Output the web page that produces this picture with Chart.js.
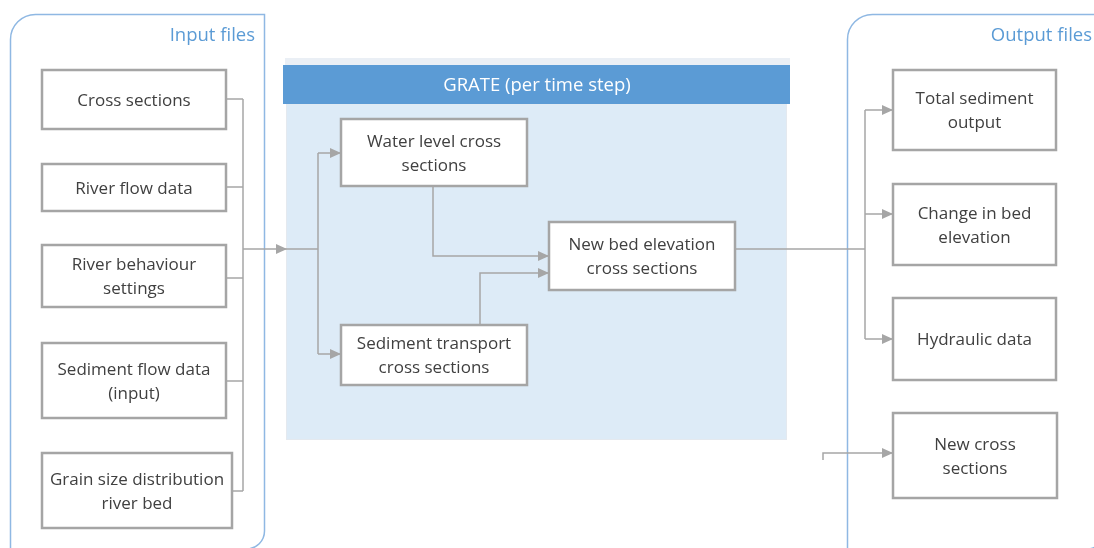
<!DOCTYPE html>
<html>
<head>
<meta charset="utf-8">
<script src="https://cdn.jsdelivr.net/npm/chart.js@4"></script>
<style>
  body { margin: 0; background: #fff; }
  #wrap { width: 1094px; height: 548px; position: relative; }
</style>
</head>
<body>
<div id="wrap"><canvas id="flow"></canvas></div>
<script>
// Box captions (one entry per line)
const boxLabels = [
  ["Cross sections"],
  ["River flow data"],
  ["River behaviour", "settings"],
  ["Sediment flow data", "(input)"],
  ["Grain size distribution", "river bed"],
  ["Water level cross", "sections"],
  ["Sediment transport", "cross sections"],
  ["New bed elevation", "cross sections"],
  ["Total sediment", "output"],
  ["Change in bed", "elevation"],
  ["Hydraulic data"],
  ["New cross", "sections"]
];
// Box extents in diagram units (left, top, right, bottom)
const boxLeft   = [42, 42, 42, 42, 42, 341, 341, 549, 893, 893, 893, 893];
const boxTop    = [70, 164, 245, 343, 453, 119, 325, 222, 70, 184, 298, 413];
const boxRight  = [226, 226, 226, 226, 232, 527, 527, 735, 1056, 1056, 1056, 1057];
const boxBottom = [129, 211, 307, 418, 528, 186, 385, 290, 150, 265, 380, 498];

// Group titles
const groupTitles = ["Input files", "GRATE (per time step)", "Output files"];

// Connector paths, and whether each one ends with an arrow
const links = [
  [[226, 99], [243, 99]],
  [[226, 187], [243, 187]],
  [[226, 278], [243, 278]],
  [[226, 381], [243, 381]],
  [[232, 491], [243, 491]],
  [[243, 99], [243, 491]],
  [[243, 249], [287, 249]],
  [[287, 249], [318, 249]],
  [[318, 153], [318, 354]],
  [[318, 153], [341, 153]],
  [[318, 354], [341, 354]],
  [[433, 186], [433, 256], [549, 256]],
  [[480, 325], [480, 273], [549, 273]],
  [[735, 249], [865, 249]],
  [[865, 110], [865, 339]],
  [[865, 110], [893, 110]],
  [[865, 214], [893, 214]],
  [[865, 339], [893, 339]],
  [[823, 460], [823, 453], [893, 453]]
];
const linkArrow = [false, false, false, false, false, false, true, false, false, true, true,
                   true, true, false, false, true, true, true, true];

const FONT = '17px "Open Sans", "Noto Sans", sans-serif';
const TITLE_FONT = '18.5px "Open Sans", "Noto Sans", sans-serif';
const BLUE = '#5b9bd5';

// round only the top-left and bottom-right corners
function panelPath(c, l, t, r, b, rTL, rBR) {
  c.beginPath();
  c.moveTo(l, t + rTL);
  c.arcTo(l, t, l + rTL, t, rTL);
  c.lineTo(r, t);
  c.lineTo(r, b - rBR);
  c.arcTo(r, b, r - rBR, b, rBR);
  c.lineTo(l, b);
  c.closePath();
}

const diagram = {
  id: 'diagram',
  beforeDatasetsDraw(chart) {
    const c = chart.ctx, sx = chart.scales.x, sy = chart.scales.y;
    const X = v => sx.getPixelForValue(v), Y = v => sy.getPixelForValue(v);
    c.save();
    // GRATE block
    c.fillStyle = '#eaeff5';
    c.fillRect(X(285), Y(58), X(790) - X(285), Y(65) - Y(58));
    c.fillStyle = '#ddebf7';
    c.fillRect(X(286), Y(104), X(786) - X(286), Y(439) - Y(104));
    c.strokeStyle = '#e4e9ef';
    c.lineWidth = 1;
    c.strokeRect(X(286) + 0.5, Y(104), X(786) - X(286), Y(439) - Y(104) + 0.5);
    c.fillStyle = BLUE;
    c.fillRect(X(283), Y(65), X(790) - X(283), Y(104) - Y(65));
    c.fillStyle = '#ffffff';
    c.font = TITLE_FONT;
    c.textAlign = 'center';
    c.textBaseline = 'middle';
    c.fillText(groupTitles[1], X(537), Y(86));

    // Input / output group outlines
    c.strokeStyle = '#8fb8e3';
    c.lineWidth = 1.5;
    panelPath(c, X(10.5), Y(14.5), X(264.5), Y(549), 25, 18);
    c.stroke();
    panelPath(c, X(847.5), Y(14.5), X(1105), Y(549), 25, 18);
    c.stroke();
    c.fillStyle = BLUE;
    c.textAlign = 'right';
    c.fillText(groupTitles[0], X(255), Y(36));
    c.fillText(groupTitles[2], X(1092), Y(36));
    c.restore();
  },
  afterDatasetsDraw(chart) {
    const c = chart.ctx, sx = chart.scales.x, sy = chart.scales.y;
    const X = v => sx.getPixelForValue(v), Y = v => sy.getPixelForValue(v);
    c.save();
    // arrow heads
    c.fillStyle = '#a6a6a6';
    links.forEach((pts, i) => {
      if (!linkArrow[i]) return;
      const a = pts[pts.length - 2], b = pts[pts.length - 1];
      const x1 = X(a[0]), y1 = Y(a[1]), x2 = X(b[0]), y2 = Y(b[1]);
      const ang = Math.atan2(y2 - y1, x2 - x1);
      c.save();
      c.translate(x2, y2);
      c.rotate(ang);
      c.beginPath();
      c.moveTo(0, 0);
      c.lineTo(-11, -5);
      c.lineTo(-11, 5);
      c.closePath();
      c.fill();
      c.restore();
    });
    // boxes
    c.font = FONT;
    c.textAlign = 'center';
    c.textBaseline = 'middle';
    boxLabels.forEach((lines, i) => {
      const l = X(boxLeft[i]), t = Y(boxTop[i]), r = X(boxRight[i]), b = Y(boxBottom[i]);
      c.fillStyle = '#ffffff';
      c.fillRect(l, t, r - l, b - t);
      c.strokeStyle = '#a5a5a5';
      c.lineWidth = 2.5;
      c.strokeRect(l, t, r - l, b - t);
      c.fillStyle = '#404040';
      const cx = (l + r) / 2, cy = (t + b) / 2 + 1.5;
      lines.forEach((txt, k) => {
        c.fillText(txt, cx, cy + (k - (lines.length - 1) / 2) * 24);
      });
    });
    c.restore();
  }
};

new Chart(document.getElementById('flow'), {
  type: 'scatter',
  data: {
    datasets: links.map(pts => ({
      data: pts.map(p => ({ x: p[0], y: p[1] })),
      showLine: true,
      borderColor: '#a6a6a6',
      borderWidth: 1.5,
      pointRadius: 0,
      fill: false,
      tension: 0
    }))
  },
  options: {
    animation: false,
    responsive: true,
    maintainAspectRatio: false,
    layout: { padding: 0 },
    plugins: { legend: { display: false }, tooltip: { enabled: false } },
    events: [],
    scales: {
      x: { type: 'linear', min: 0, max: 1094, display: false },
      y: { type: 'linear', min: 0, max: 548, reverse: true, display: false }
    }
  },
  plugins: [diagram]
});
</script>
</body>
</html>
